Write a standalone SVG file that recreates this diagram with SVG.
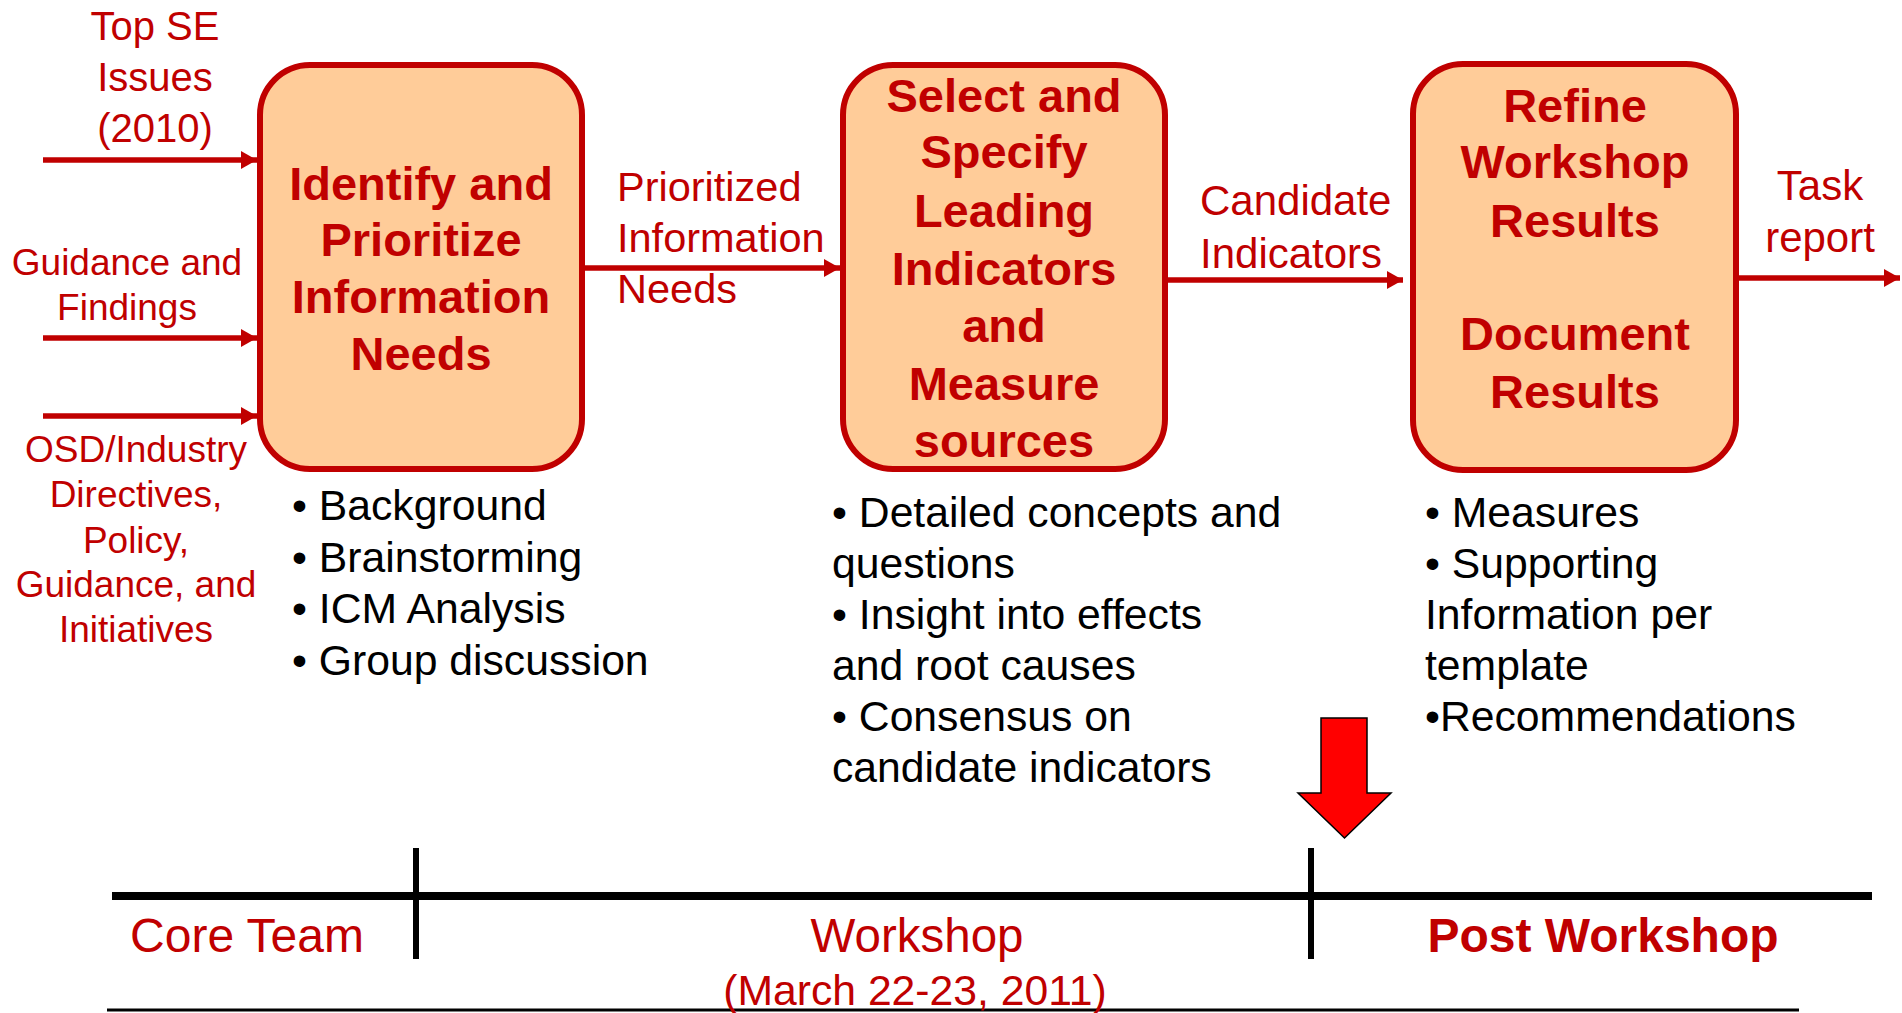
<svg xmlns="http://www.w3.org/2000/svg" width="1902" height="1013" viewBox="0 0 1902 1013">
  <style>
    .box { fill: #FFCC99; stroke: #C00000; stroke-width: 6; }
    .title { font-family: "Liberation Sans", Arial, sans-serif; font-weight: bold; font-size: 47px; fill: #C00000; text-anchor: middle; }
    .lbl { font-family: "Liberation Sans", Arial, sans-serif; fill: #C00000; }
    .note { font-family: "Liberation Sans", Arial, sans-serif; font-size: 42.7px; fill: #000000; }
    .flow { stroke: #C00000; stroke-width: 5.5; fill: none; marker-end: url(#head); }
    .phase { font-family: "Liberation Sans", Arial, sans-serif; fill: #C00000; text-anchor: middle; }
  </style>
  <defs>
    <marker id="head" markerUnits="userSpaceOnUse" markerWidth="16" markerHeight="18" refX="16" refY="9" orient="auto">
      <path d="M0,0 L16,9 L0,18 Z" fill="#C00000"/>
    </marker>
  </defs>
  <rect width="1902" height="1013" fill="#FFFFFF"/>

  <!-- input labels -->
  <g id="input-top-se" class="lbl" font-size="40" text-anchor="middle">
    <text x="155" y="40">Top SE</text>
    <text x="155" y="91">Issues</text>
    <text x="155" y="142">(2010)</text>
  </g>
  <g id="input-guidance" class="lbl" font-size="37" text-anchor="middle">
    <text x="127" y="275">Guidance and</text>
    <text x="127" y="320">Findings</text>
  </g>
  <g id="input-osd" class="lbl" font-size="37" text-anchor="middle">
    <text x="136" y="462">OSD/Industry</text>
    <text x="136" y="507">Directives,</text>
    <text x="136" y="553">Policy,</text>
    <text x="136" y="597">Guidance, and</text>
    <text x="136" y="642">Initiatives</text>
  </g>

  <!-- process boxes -->
  <g id="node-identify">
    <rect class="box" x="260" y="65" width="322" height="404" rx="50" ry="50"/>
    <text class="title" x="421" y="200">Identify and</text>
    <text class="title" x="421" y="256">Prioritize</text>
    <text class="title" x="421" y="313">Information</text>
    <text class="title" x="421" y="370">Needs</text>
  </g>
  <g id="node-select">
    <rect class="box" x="843" y="65" width="322" height="404" rx="50" ry="50"/>
    <text class="title" x="1004" y="112">Select and</text>
    <text class="title" x="1004" y="168">Specify</text>
    <text class="title" x="1004" y="227">Leading</text>
    <text class="title" x="1004" y="285">Indicators</text>
    <text class="title" x="1004" y="342">and</text>
    <text class="title" x="1004" y="400">Measure</text>
    <text class="title" x="1004" y="457">sources</text>
  </g>
  <g id="node-refine">
    <rect class="box" x="1413" y="64" width="323" height="406" rx="50" ry="50"/>
    <text class="title" x="1575" y="122">Refine</text>
    <text class="title" x="1575" y="178">Workshop</text>
    <text class="title" x="1575" y="237">Results</text>
    <text class="title" x="1575" y="350">Document</text>
    <text class="title" x="1575" y="408">Results</text>
  </g>

  <!-- connectors -->
  <g id="connectors">
    <line class="flow" x1="43" y1="160" x2="257" y2="160"/>
    <line class="flow" x1="43" y1="338" x2="257" y2="338"/>
    <line class="flow" x1="43" y1="416" x2="257" y2="416"/>
    <line class="flow" x1="585" y1="268" x2="840" y2="268"/>
    <line class="flow" x1="1168" y1="280" x2="1403" y2="280"/>
    <line class="flow" x1="1739" y1="278" x2="1900" y2="278"/>
  </g>

  <!-- connector labels -->
  <g id="label-prioritized" class="lbl" font-size="41.5">
    <text x="617" y="201">Prioritized</text>
    <text x="617" y="252">Information</text>
    <text x="617" y="303">Needs</text>
  </g>
  <g id="label-candidate" class="lbl" font-size="42">
    <text x="1200" y="215">Candidate</text>
    <text x="1200" y="268">Indicators</text>
  </g>
  <g id="label-task" class="lbl" font-size="42" text-anchor="middle">
    <text x="1820" y="200">Task</text>
    <text x="1820" y="252">report</text>
  </g>

  <!-- activity notes -->
  <g id="notes-identify" class="note">
    <text x="292" y="520">• Background</text>
    <text x="292" y="572">• Brainstorming</text>
    <text x="292" y="623">• ICM Analysis</text>
    <text x="292" y="675">• Group discussion</text>
  </g>
  <g id="notes-select" class="note">
    <text x="832" y="527">• Detailed concepts and</text>
    <text x="832" y="578">questions</text>
    <text x="832" y="629">• Insight into effects</text>
    <text x="832" y="680">and root causes</text>
    <text x="832" y="731">• Consensus on</text>
    <text x="832" y="782">candidate indicators</text>
  </g>
  <g id="notes-refine" class="note">
    <text x="1425" y="527">• Measures</text>
    <text x="1425" y="578">• Supporting</text>
    <text x="1425" y="629">Information per</text>
    <text x="1425" y="680">template</text>
    <text x="1425" y="731">•Recommendations</text>
  </g>

  <!-- current-phase marker -->
  <g id="phase-marker">
    <polygon points="1321,718 1367,718 1367,793 1391,793 1344.5,838 1298,793 1321,793" fill="#FF0000" stroke="#000000" stroke-width="1.5" stroke-linejoin="miter"/>
  </g>

  <!-- timeline -->
  <g id="timeline">
    <line x1="112" y1="896" x2="1872" y2="896" stroke="#000000" stroke-width="8"/>
    <line x1="416" y1="848" x2="416" y2="959" stroke="#000000" stroke-width="6"/>
    <line x1="1311" y1="848" x2="1311" y2="959" stroke="#000000" stroke-width="6"/>
    <line x1="107" y1="1010" x2="1799" y2="1010" stroke="#000000" stroke-width="3"/>
    <text class="phase" x="247" y="952" font-size="48">Core Team</text>
    <text class="phase" x="917" y="952" font-size="47.5">Workshop</text>
    <text class="phase" x="915" y="1005" font-size="42.7">(March 22-23, 2011)</text>
    <text class="phase" x="1603" y="952" font-size="48" font-weight="bold">Post Workshop</text>
  </g>
</svg>
